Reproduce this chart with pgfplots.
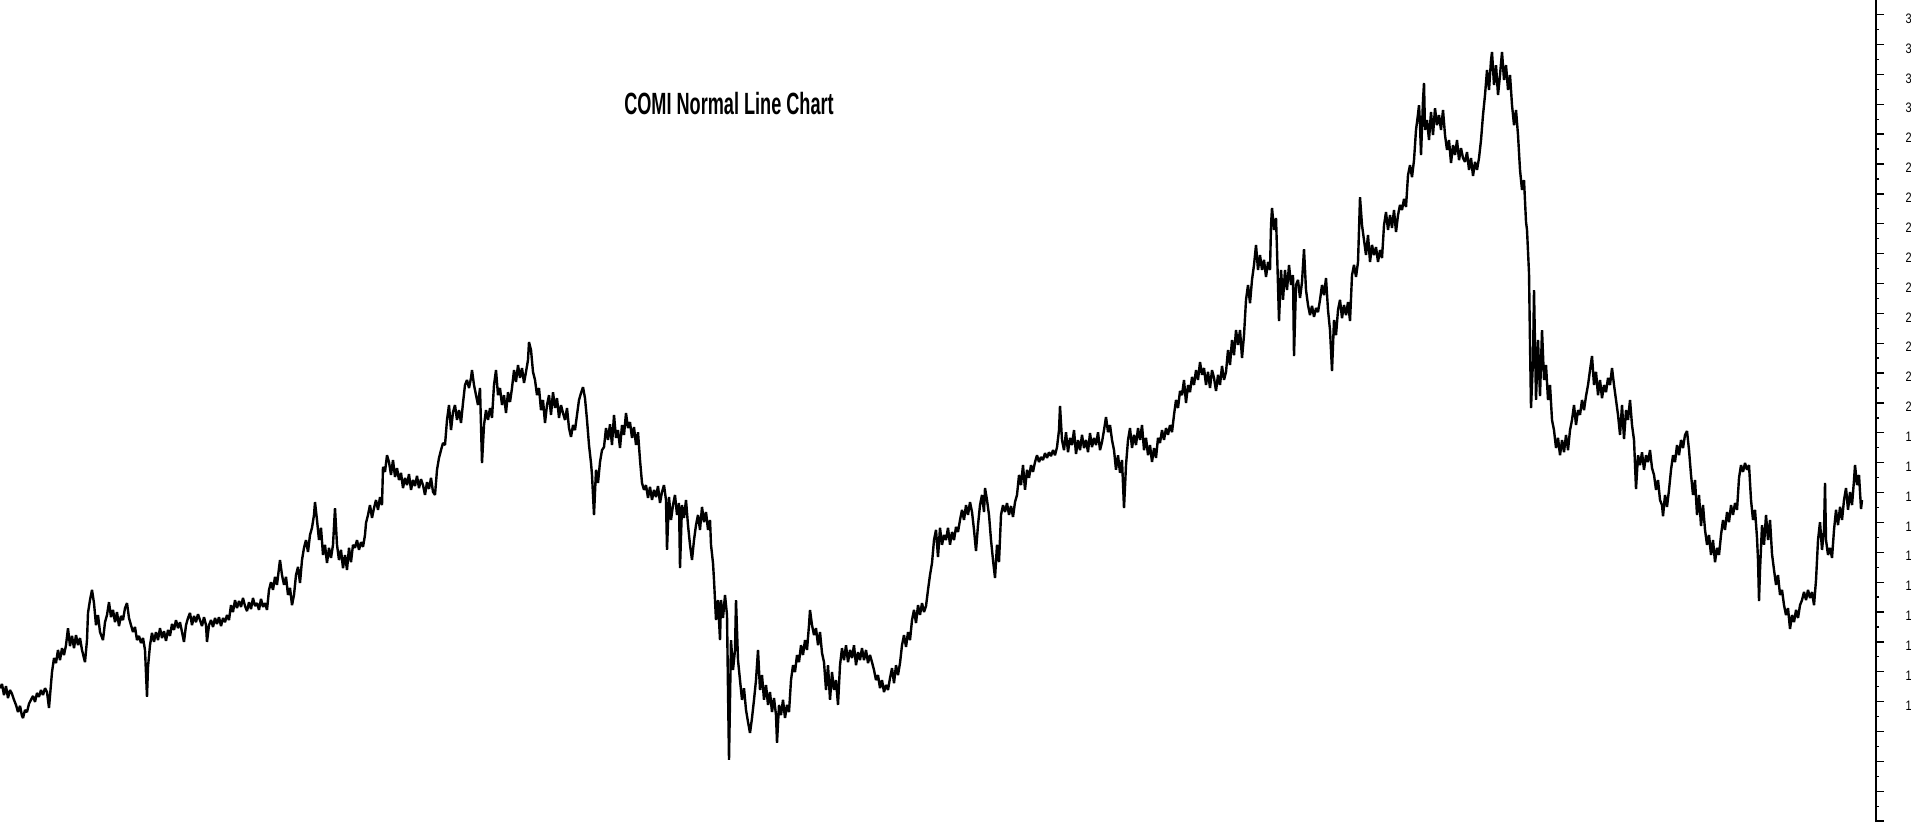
\documentclass[border=0pt]{standalone}
\usepackage{fontspec}
\setmainfont{Liberation Sans}
\usepackage{graphicx}
\usepackage{pgfplots}
\usepackage{pgfplotstable}
\pgfplotsset{compat=1.18}
\pgfplotstableread[row sep=\\]{
x y\\
0 10.45\\ 2 10.59\\ 4 10.22\\ 6 10.52\\ 8 10.12\\ 10 10.39\\ 12 10.26\\ 14 10.06\\ 16 9.89\\ 18 9.65\\
20 9.86\\ 22 9.52\\ 23 9.45\\ 25 9.72\\ 27 9.65\\ 29 9.93\\ 31 10.06\\ 33 10.19\\ 35 9.99\\ 37 10.29\\
39 10.16\\ 41 10.39\\ 43 10.22\\ 45 10.45\\ 47 10.32\\ 49 9.79\\ 50 10.19\\ 52 10.99\\ 54 11.46\\ 56 11.29\\
58 11.73\\ 60 11.39\\ 62 11.79\\ 64 11.56\\ 66 11.89\\ 68 12.46\\ 70 11.86\\ 72 12.20\\ 74 11.79\\ 76 12.23\\
78 11.89\\ 80 12.13\\ 82 11.73\\ 85 11.32\\ 87 12.06\\ 88 12.97\\ 90 13.40\\ 92 13.74\\ 94 13.30\\ 96 12.56\\
98 12.90\\ 100 12.33\\ 103 12.06\\ 105 12.66\\ 107 12.90\\ 109 13.33\\ 111 12.83\\ 113 13.07\\ 115 12.66\\ 117 13.00\\
119 12.53\\ 121 12.87\\ 123 12.73\\ 125 13.13\\ 127 13.30\\ 129 12.80\\ 131 12.56\\ 133 12.33\\ 135 12.50\\ 137 12.06\\
139 12.20\\ 141 11.96\\ 143 12.13\\ 145 11.73\\ 147 10.16\\ 148 11.16\\ 150 11.89\\ 152 12.30\\ 154 12.00\\ 156 12.33\\
158 12.06\\ 160 12.46\\ 162 12.13\\ 164 12.36\\ 166 12.03\\ 168 12.40\\ 170 12.20\\ 172 12.60\\ 174 12.40\\ 176 12.73\\
178 12.46\\ 180 12.66\\ 182 12.33\\ 184 12.00\\ 186 12.56\\ 188 12.80\\ 190 12.97\\ 192 12.56\\ 194 12.87\\ 196 12.66\\
198 12.93\\ 200 12.73\\ 202 12.53\\ 204 12.83\\ 206 12.56\\ 207 12.00\\ 209 12.56\\ 211 12.73\\ 213 12.50\\ 215 12.80\\
217 12.60\\ 219 12.83\\ 221 12.53\\ 223 12.80\\ 225 12.66\\ 227 12.90\\ 229 12.73\\ 231 13.23\\ 233 13.00\\ 235 13.40\\
237 13.13\\ 239 13.37\\ 241 13.17\\ 243 13.47\\ 245 13.20\\ 247 13.03\\ 249 13.33\\ 251 13.10\\ 253 13.47\\ 255 13.20\\
257 13.30\\ 259 13.07\\ 261 13.44\\ 263 13.17\\ 265 13.30\\ 267 13.07\\ 269 13.74\\ 271 14.00\\ 273 13.74\\ 275 14.18\\
277 13.91\\ 279 14.47\\ 280 14.74\\ 282 14.24\\ 284 13.91\\ 286 14.18\\ 288 13.57\\ 290 13.81\\ 292 13.23\\ 294 13.57\\
296 14.24\\ 298 14.51\\ 300 13.97\\ 302 14.74\\ 304 15.15\\ 306 15.41\\ 308 15.01\\ 310 15.58\\ 312 15.82\\ 314 16.25\\
315 16.68\\ 317 16.08\\ 319 15.41\\ 321 15.82\\ 323 14.91\\ 325 15.25\\ 327 14.64\\ 329 15.15\\ 331 14.81\\ 333 15.25\\
335 16.48\\ 337 15.25\\ 339 14.74\\ 341 15.08\\ 343 14.47\\ 345 14.91\\ 347 14.41\\ 349 15.15\\ 351 14.67\\ 353 15.25\\
355 15.15\\ 357 15.41\\ 359 15.08\\ 361 15.34\\ 363 15.18\\ 365 15.58\\ 366 15.98\\ 368 16.25\\ 370 16.58\\ 372 16.15\\
374 16.48\\ 376 16.75\\ 378 16.42\\ 380 16.85\\ 382 16.58\\ 383 17.86\\ 385 17.69\\ 387 18.25\\ 389 18.02\\ 391 17.59\\
393 18.09\\ 395 17.52\\ 397 17.82\\ 399 17.42\\ 401 17.66\\ 403 17.15\\ 405 17.49\\ 407 17.25\\ 409 17.62\\ 411 17.09\\
413 17.42\\ 415 17.22\\ 417 17.56\\ 419 17.15\\ 421 17.45\\ 423 17.25\\ 425 16.92\\ 427 17.35\\ 429 17.12\\ 431 17.49\\
433 17.02\\ 435 16.92\\ 437 17.76\\ 439 18.16\\ 441 18.42\\ 443 18.66\\ 445 18.59\\ 447 19.43\\ 449 19.93\\ 451 19.09\\
453 19.69\\ 455 19.93\\ 457 19.43\\ 459 19.76\\ 461 19.33\\ 463 20.00\\ 465 20.60\\ 467 20.77\\ 469 20.50\\ 471 20.84\\
472 21.10\\ 474 20.60\\ 476 20.26\\ 478 19.93\\ 480 20.50\\ 482 17.99\\ 484 19.26\\ 486 19.76\\ 488 19.43\\ 490 19.83\\
492 19.50\\ 494 20.60\\ 496 21.10\\ 498 20.26\\ 500 20.50\\ 502 19.93\\ 504 20.26\\ 506 19.66\\ 508 20.36\\ 510 20.03\\
512 20.50\\ 514 21.10\\ 516 20.70\\ 518 21.27\\ 520 20.84\\ 522 21.17\\ 524 20.67\\ 526 21.04\\ 528 21.44\\ 529 22.04\\
531 21.77\\ 533 21.04\\ 535 20.77\\ 537 20.26\\ 539 20.50\\ 541 19.76\\ 543 20.10\\ 545 19.33\\ 547 19.93\\ 549 20.26\\
551 19.60\\ 553 20.36\\ 555 19.83\\ 557 20.16\\ 559 19.50\\ 561 19.93\\ 563 19.66\\ 565 19.43\\ 567 19.83\\ 569 19.16\\
571 18.86\\ 573 19.26\\ 575 19.09\\ 577 19.60\\ 579 20.10\\ 581 20.33\\ 583 20.53\\ 585 20.16\\ 587 19.43\\ 589 18.59\\
591 17.99\\ 592 17.59\\ 594 16.25\\ 596 17.76\\ 598 17.32\\ 600 18.02\\ 602 18.42\\ 604 18.52\\ 606 19.16\\ 608 18.76\\
610 19.29\\ 612 18.59\\ 614 19.60\\ 616 18.83\\ 618 19.09\\ 620 18.49\\ 622 19.26\\ 624 18.93\\ 626 19.66\\ 628 19.16\\
630 19.36\\ 632 18.83\\ 634 19.19\\ 636 18.59\\ 638 19.02\\ 640 18.09\\ 642 17.32\\ 644 17.09\\ 646 17.25\\ 648 16.82\\
650 17.19\\ 652 16.75\\ 654 17.09\\ 656 16.85\\ 658 17.22\\ 660 16.65\\ 662 17.02\\ 664 17.25\\ 666 16.75\\ 667 15.08\\
669 16.85\\ 671 16.08\\ 673 16.58\\ 675 16.92\\ 677 16.25\\ 679 16.65\\ 680 14.47\\ 682 16.58\\ 684 16.15\\ 686 16.75\\
688 15.91\\ 690 15.25\\ 692 14.74\\ 694 15.41\\ 696 15.91\\ 698 16.25\\ 700 15.75\\ 702 16.52\\ 704 16.01\\ 706 16.35\\
708 15.75\\ 710 16.08\\ 711 15.25\\ 713 14.64\\ 714 14.07\\ 716 12.73\\ 718 13.40\\ 720 12.06\\ 721 13.40\\ 723 12.80\\
725 13.57\\ 727 12.90\\ 728 10.39\\ 729 8.05\\ 731 12.06\\ 733 11.06\\ 735 11.73\\ 736 13.40\\ 738 11.39\\ 740 10.72\\
742 10.06\\ 744 10.45\\ 746 9.72\\ 748 9.32\\ 750 8.95\\ 752 9.45\\ 754 10.06\\ 756 10.72\\ 758 11.73\\ 760 10.39\\
762 10.89\\ 764 10.06\\ 766 10.56\\ 768 9.89\\ 770 10.32\\ 772 9.65\\ 774 10.12\\ 776 9.55\\ 777 8.62\\ 779 9.89\\
781 9.55\\ 783 10.06\\ 785 9.45\\ 787 9.89\\ 789 9.65\\ 791 10.72\\ 793 11.22\\ 795 10.99\\ 797 11.56\\ 799 11.32\\
801 11.89\\ 803 11.56\\ 805 12.06\\ 807 11.73\\ 809 12.56\\ 810 13.07\\ 812 12.56\\ 814 12.23\\ 816 12.46\\ 818 11.89\\
820 12.33\\ 822 11.63\\ 824 11.32\\ 826 10.39\\ 828 11.22\\ 830 10.06\\ 832 10.99\\ 834 10.39\\ 836 10.72\\ 838 9.89\\
840 11.22\\ 842 11.79\\ 844 11.39\\ 846 11.89\\ 848 11.32\\ 850 11.73\\ 852 11.46\\ 854 11.89\\ 856 11.22\\ 858 11.66\\
860 11.39\\ 862 11.79\\ 864 11.39\\ 866 11.73\\ 868 11.29\\ 870 11.56\\ 872 11.32\\ 874 11.06\\ 876 10.72\\ 878 10.89\\
880 10.45\\ 882 10.72\\ 884 10.32\\ 886 10.56\\ 888 10.39\\ 890 10.79\\ 892 11.12\\ 894 10.62\\ 896 11.22\\ 898 10.89\\
900 11.29\\ 902 11.89\\ 904 12.23\\ 906 11.83\\ 908 12.33\\ 910 12.06\\ 912 12.73\\ 914 13.07\\ 916 12.63\\ 918 13.23\\
920 12.90\\ 922 13.30\\ 924 13.00\\ 926 13.20\\ 928 13.74\\ 930 14.24\\ 932 14.64\\ 934 15.41\\ 936 15.75\\ 938 14.84\\
940 15.82\\ 942 15.25\\ 944 15.58\\ 946 15.41\\ 948 15.82\\ 950 15.25\\ 952 15.68\\ 954 15.41\\ 956 15.85\\ 958 15.68\\
960 16.08\\ 962 16.42\\ 964 16.08\\ 966 16.58\\ 968 16.25\\ 970 16.68\\ 972 16.35\\ 974 15.75\\ 976 15.04\\ 978 15.91\\
980 16.58\\ 982 16.92\\ 984 16.35\\ 985 17.15\\ 987 16.75\\ 989 16.25\\ 991 15.41\\ 993 14.74\\ 995 14.14\\ 997 15.25\\
999 14.67\\ 1001 16.25\\ 1003 16.58\\ 1005 16.35\\ 1007 16.65\\ 1009 16.25\\ 1011 16.55\\ 1013 16.18\\ 1015 16.68\\ 1017 16.92\\
1019 17.59\\ 1021 17.25\\ 1023 17.92\\ 1025 17.09\\ 1027 17.76\\ 1029 17.49\\ 1031 17.92\\ 1033 17.69\\ 1035 18.02\\ 1037 18.25\\
1039 18.02\\ 1041 18.19\\ 1043 18.09\\ 1045 18.32\\ 1047 18.16\\ 1049 18.35\\ 1051 18.22\\ 1053 18.42\\ 1055 18.25\\ 1057 18.52\\
1059 19.09\\ 1060 19.90\\ 1062 18.76\\ 1064 18.42\\ 1066 19.02\\ 1068 18.35\\ 1070 18.83\\ 1072 18.59\\ 1074 19.09\\ 1076 18.29\\
1078 18.76\\ 1080 18.42\\ 1082 18.93\\ 1084 18.49\\ 1086 18.76\\ 1088 18.35\\ 1090 18.99\\ 1092 18.52\\ 1094 18.83\\ 1096 18.59\\
1098 19.02\\ 1100 18.42\\ 1102 18.69\\ 1104 19.09\\ 1106 19.53\\ 1108 19.02\\ 1110 19.26\\ 1112 18.76\\ 1114 18.42\\ 1116 17.76\\
1118 18.25\\ 1120 17.66\\ 1122 18.09\\ 1124 16.48\\ 1126 17.92\\ 1128 18.76\\ 1130 19.16\\ 1132 18.49\\ 1134 18.93\\ 1136 18.59\\
1138 19.16\\ 1140 18.76\\ 1142 19.26\\ 1144 18.42\\ 1146 18.83\\ 1148 18.25\\ 1150 18.59\\ 1152 18.02\\ 1154 18.49\\ 1156 18.16\\
1158 18.83\\ 1160 18.66\\ 1162 19.09\\ 1164 18.76\\ 1166 19.16\\ 1168 18.93\\ 1170 19.26\\ 1172 19.02\\ 1174 19.60\\ 1176 20.10\\
1178 19.83\\ 1180 20.40\\ 1182 20.26\\ 1184 20.77\\ 1186 20.00\\ 1188 20.60\\ 1190 20.36\\ 1192 20.87\\ 1194 20.60\\ 1196 21.10\\
1198 20.77\\ 1200 21.37\\ 1202 20.94\\ 1204 21.17\\ 1206 20.60\\ 1208 21.04\\ 1210 20.50\\ 1212 21.10\\ 1214 20.84\\ 1216 20.40\\
1218 20.94\\ 1220 20.60\\ 1222 21.24\\ 1224 20.77\\ 1226 21.04\\ 1228 21.77\\ 1230 21.27\\ 1232 22.11\\ 1234 21.60\\ 1236 22.44\\
1238 21.94\\ 1240 22.44\\ 1242 21.50\\ 1244 22.27\\ 1246 23.45\\ 1248 23.95\\ 1250 23.34\\ 1252 24.12\\ 1254 24.62\\ 1256 25.29\\
1258 24.45\\ 1260 24.95\\ 1262 24.45\\ 1264 24.79\\ 1266 24.22\\ 1268 24.72\\ 1270 24.45\\ 1271 25.95\\ 1272 26.53\\ 1274 25.79\\
1276 26.19\\ 1277 25.12\\ 1279 22.74\\ 1281 24.45\\ 1283 23.45\\ 1285 24.45\\ 1287 23.78\\ 1289 24.62\\ 1291 23.95\\ 1293 24.28\\
1294 21.57\\ 1296 23.95\\ 1298 24.12\\ 1300 23.51\\ 1302 24.05\\ 1304 25.15\\ 1306 23.78\\ 1308 23.28\\ 1310 22.94\\ 1312 23.25\\
1314 22.88\\ 1316 23.18\\ 1318 23.04\\ 1320 23.45\\ 1322 23.95\\ 1324 23.61\\ 1326 24.18\\ 1328 23.11\\ 1330 22.44\\ 1332 21.07\\
1334 22.78\\ 1336 22.27\\ 1338 23.11\\ 1340 23.45\\ 1342 22.84\\ 1344 23.28\\ 1346 22.94\\ 1348 23.38\\ 1350 22.74\\ 1352 24.28\\
1354 24.62\\ 1356 24.22\\ 1358 24.72\\ 1359 25.79\\ 1360 26.89\\ 1362 25.95\\ 1364 25.45\\ 1366 24.95\\ 1368 25.62\\ 1370 24.72\\
1372 25.29\\ 1374 24.95\\ 1376 25.22\\ 1378 24.72\\ 1380 25.12\\ 1382 24.85\\ 1384 25.95\\ 1386 26.39\\ 1388 25.79\\ 1390 26.29\\
1392 25.86\\ 1394 26.46\\ 1396 25.72\\ 1398 26.29\\ 1400 26.63\\ 1402 26.46\\ 1404 26.83\\ 1406 26.56\\ 1408 27.63\\ 1410 27.96\\
1412 27.56\\ 1414 28.13\\ 1416 29.14\\ 1418 29.67\\ 1419 29.97\\ 1420 29.30\\ 1421 28.30\\ 1423 30.14\\ 1424 30.71\\ 1425 29.14\\
1427 29.47\\ 1429 28.80\\ 1431 29.74\\ 1433 28.97\\ 1435 29.87\\ 1437 29.30\\ 1439 29.64\\ 1441 29.14\\ 1443 29.81\\ 1445 28.97\\
1447 28.47\\ 1449 28.80\\ 1451 28.03\\ 1453 28.63\\ 1455 28.30\\ 1457 28.80\\ 1459 28.13\\ 1461 28.53\\ 1463 28.20\\ 1465 28.07\\
1467 28.40\\ 1469 27.80\\ 1471 28.20\\ 1473 27.60\\ 1475 28.07\\ 1477 27.80\\ 1479 28.20\\ 1481 28.80\\ 1483 29.64\\ 1485 30.31\\
1487 31.15\\ 1489 30.48\\ 1491 31.48\\ 1492 31.75\\ 1494 30.64\\ 1496 31.31\\ 1498 30.31\\ 1500 30.98\\ 1502 31.75\\ 1504 30.81\\
1506 31.31\\ 1508 30.48\\ 1510 30.98\\ 1512 29.97\\ 1514 29.30\\ 1516 29.81\\ 1518 28.97\\ 1520 27.80\\ 1522 27.13\\ 1524 27.46\\
1526 26.06\\ 1527 25.79\\ 1529 24.35\\ 1530 21.97\\ 1531 19.83\\ 1533 21.44\\ 1534 23.78\\ 1536 20.10\\ 1538 22.11\\ 1540 20.23\\
1542 22.44\\ 1544 20.77\\ 1546 21.27\\ 1548 20.10\\ 1550 20.60\\ 1552 19.43\\ 1554 19.09\\ 1556 18.49\\ 1558 18.83\\ 1560 18.25\\
1562 18.76\\ 1564 18.35\\ 1566 18.93\\ 1568 18.42\\ 1570 19.09\\ 1572 19.43\\ 1574 19.93\\ 1576 19.26\\ 1578 19.76\\ 1580 19.60\\
1582 20.10\\ 1584 19.76\\ 1586 20.23\\ 1588 20.60\\ 1590 21.10\\ 1592 21.57\\ 1594 20.60\\ 1596 21.04\\ 1598 20.26\\ 1600 20.77\\
1602 20.16\\ 1604 20.60\\ 1606 20.36\\ 1608 20.84\\ 1610 20.60\\ 1612 21.17\\ 1614 20.60\\ 1616 20.10\\ 1618 19.60\\ 1620 18.93\\
1622 19.93\\ 1624 18.79\\ 1626 19.76\\ 1628 19.43\\ 1630 20.10\\ 1632 19.26\\ 1634 18.76\\ 1636 17.12\\ 1638 18.25\\ 1640 17.92\\
1642 18.35\\ 1644 17.76\\ 1646 18.25\\ 1648 18.02\\ 1650 18.42\\ 1652 17.82\\ 1654 17.59\\ 1656 17.09\\ 1658 17.42\\ 1660 16.75\\
1662 16.58\\ 1663 16.21\\ 1665 16.92\\ 1667 16.52\\ 1669 17.09\\ 1671 17.76\\ 1673 18.25\\ 1675 18.02\\ 1677 18.59\\ 1679 18.25\\
1681 18.76\\ 1683 18.49\\ 1685 18.93\\ 1687 19.06\\ 1689 18.42\\ 1691 17.59\\ 1693 16.92\\ 1695 17.42\\ 1697 16.25\\ 1699 16.92\\
1701 15.88\\ 1703 16.58\\ 1705 15.75\\ 1707 15.25\\ 1709 15.58\\ 1711 14.91\\ 1713 15.41\\ 1715 14.67\\ 1717 15.15\\ 1719 14.91\\
1721 15.58\\ 1723 16.08\\ 1725 15.75\\ 1727 16.35\\ 1729 16.01\\ 1731 16.58\\ 1733 16.25\\ 1735 16.65\\ 1737 16.42\\ 1739 17.49\\
1741 17.92\\ 1743 17.69\\ 1745 17.99\\ 1747 17.76\\ 1749 17.92\\ 1751 16.75\\ 1753 16.08\\ 1755 16.42\\ 1757 15.48\\ 1758 14.74\\
1759 13.37\\ 1760 14.41\\ 1762 15.91\\ 1764 15.25\\ 1766 16.25\\ 1768 15.41\\ 1770 16.08\\ 1772 14.94\\ 1774 14.41\\ 1776 13.91\\
1778 14.24\\ 1780 13.57\\ 1782 13.74\\ 1784 13.23\\ 1786 12.90\\ 1788 13.13\\ 1790 12.43\\ 1792 12.90\\ 1794 12.66\\ 1796 13.07\\
1798 12.80\\ 1800 13.23\\ 1802 13.40\\ 1804 13.67\\ 1806 13.40\\ 1808 13.74\\ 1810 13.47\\ 1812 13.67\\ 1814 13.23\\ 1816 14.07\\
1818 15.41\\ 1820 16.01\\ 1822 15.08\\ 1824 15.75\\ 1825 17.32\\ 1826 15.41\\ 1828 14.91\\ 1830 15.15\\ 1832 14.81\\ 1834 15.75\\
1836 16.42\\ 1838 15.91\\ 1840 16.52\\ 1842 16.08\\ 1844 16.75\\ 1846 17.15\\ 1848 16.42\\ 1850 17.02\\ 1852 16.58\\ 1854 17.42\\
1855 17.92\\ 1857 17.25\\ 1859 17.59\\ 1861 16.45\\ 1862 16.75\\
}\comi
\begin{document}
\begin{tikzpicture}
\path[use as bounding box] (0,0) rectangle (19.11,8.22);
\begin{axis}[
  at={(0,0)}, anchor=south west,
  scale only axis,
  width=18.76cm, height=8.22cm,
  xmin=0, xmax=1876,
  ymin=5.97, ymax=33.49,
  axis x line=none,
  axis y line*=right,
  axis line style={line width=0.015cm, black},
  ytick={10,...,33},
  extra y ticks={6,7,8,9},
  extra y tick labels={},
  minor ytick={6.5,7.5,...,33.5},
  tick align=outside,
  major tick length=0.08cm,
  minor tick length=0.03cm,
  every tick/.style={line width=0.013cm, black},
  /pgf/number format/assume math mode=true,
  yticklabel style={anchor=west, inner sep=0pt, xshift=0.21cm, yshift=-0.04cm,
    font=\fontsize{3.9}{4}\selectfont, text=black},
  yticklabel={\scalebox{0.8}[1]{\pgfmathprintnumber{\tick}}},
  clip=true,
]
\addplot[black, line width=0.024cm, line join=miter, miter limit=2] table[x=x, y=y] {\comi};
\node at (axis description cs:0.3886,0.8735)
  {\fontsize{8.74}{10}\selectfont\bfseries\scalebox{0.59}[1]{COMI Normal Line Chart}};
\end{axis}
\end{tikzpicture}
\end{document}
